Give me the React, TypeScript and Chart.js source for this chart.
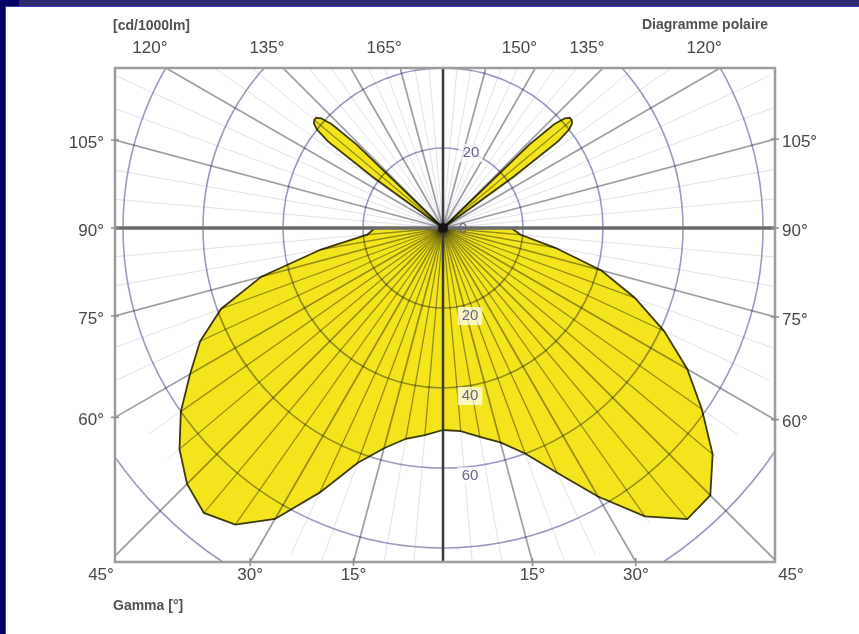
import { useEffect, useRef } from "react";
import { Chart, registerables } from "chart.js";

Chart.register(...registerables);

// Luminous intensity in cd/1000lm, gamma in degrees (0 = straight down)
const gammaLower = [0, 5, 10, 15, 20, 25, 30, 35, 40, 45, 50, 55, 60, 65, 70, 75, 80, 85, 90];
const lowerRight = [50.5, 51, 53, 55.5, 60, 67.5, 77.5, 88, 95, 94.5, 88, 79, 70.5, 61, 51, 41, 28.5, 19.5, 17];
const lowerLeft = [50.5, 52, 53.5, 57, 62.5, 73, 84, 90.5, 93, 90.5, 86, 80, 73, 67, 59, 47, 31, 19, 17];

// Narrow upward beam on each side
const gammaUpper = [92, 125, 126, 127, 128, 129, 130, 131, 132, 133, 134, 135, 180];
const upperRight = [0, 0, 22, 36, 40, 41.5, 42, 42, 41, 38, 30, 0, 0];
const upperLeft = [0, 0, 22, 36, 40, 41.5, 42, 42, 41, 38, 30, 0, 0];

// Grid
const ringValues = [20, 40, 60, 80, 100];
const ringLabelsBelow = [20, 40, 60];
const ringLabelsAbove = [20];
const mainSpokes = [0, 15, 30, 45, 60, 75, 90, 105, 120, 135, 150, 165, 180];
const fineSpokes = [5, 10, 20, 25, 35, 40, 50, 55, 65, 70, 80, 85, 95, 100, 110, 115, 125, 130, 140, 145, 155, 160, 170, 175];

// Angle labels around the frame
const sideLabels = [105, 90, 75, 60];
const bottomLabels = [45, 30, 15];
const topLeftLabels = [120, 135, 165];
const topRightLabels = [150, 135, 120];

// Axis ranges in cd/1000lm
const xRange = [-82, 83];
const yRange = [-83.5, 40];

const rad = (d: number) => (d * Math.PI) / 180;

function polarPoints(gammas: number[], values: number[], side: number) {
  return gammas.map((g, i) => ({
    x: side * values[i] * Math.sin(rad(g)),
    y: -values[i] * Math.cos(rad(g)),
  }));
}

function buildOutline() {
  const right = [
    ...polarPoints(gammaLower, lowerRight, 1),
    ...polarPoints(gammaUpper, upperRight, 1),
  ];
  const left = [
    ...polarPoints(gammaLower, lowerLeft, -1),
    ...polarPoints(gammaUpper, upperLeft, -1),
  ].reverse();
  return [...right, ...left];
}

function rayHit(g: number, side: number) {
  const dx = side * Math.sin(rad(g));
  const dy = -Math.cos(rad(g));
  let t = Infinity;
  if (dx > 1e-9) t = Math.min(t, xRange[1] / dx);
  if (dx < -1e-9) t = Math.min(t, xRange[0] / dx);
  if (dy > 1e-9) t = Math.min(t, yRange[1] / dy);
  if (dy < -1e-9) t = Math.min(t, yRange[0] / dy);
  return { x: dx * t, y: dy * t };
}

const frameAndGrid = {
  id: "frameAndGrid",
  beforeDraw(chart: any) {
    const { ctx, width, height } = chart;
    ctx.save();
    ctx.fillStyle = "#ffffff";
    ctx.fillRect(0, 0, width, height);
    // slide frame
    ctx.fillStyle = "#2b2b6e";
    ctx.fillRect(0, 0, width, 6);
    ctx.fillStyle = "#3a3ab4";
    ctx.fillRect(0, 6, width, 1);
    ctx.fillStyle = "#000066";
    ctx.fillRect(0, 0, 19, 6);
    ctx.fillRect(0, 0, 5, height);
    ctx.fillStyle = "#4444b0";
    ctx.fillRect(5, 6, 1, height - 6);
    ctx.restore();
  },
  afterDatasetsDraw(chart: any) {
    const { ctx, chartArea: a } = chart;
    const xs = chart.scales.x;
    const ys = chart.scales.y;
    const px = (v: number) => xs.getPixelForValue(v);
    const py = (v: number) => ys.getPixelForValue(v);
    const cx = px(0);
    const cy = py(0);
    const unit = px(1) - px(0);
    const pts = chart.getDatasetMeta(0).data as any[];

    const spoke = (g: number, side: number, len: number) => {
      ctx.beginPath();
      ctx.moveTo(cx, cy);
      ctx.lineTo(px(side * len * Math.sin(rad(g))), py(-len * Math.cos(rad(g))));
      ctx.stroke();
    };

    ctx.save();
    ctx.beginPath();
    ctx.rect(a.left, a.top, a.right - a.left, a.bottom - a.top);
    ctx.clip();
    ctx.globalCompositeOperation = "multiply";

    // faint intermediate spokes over the whole field
    ctx.strokeStyle = "#e2e2e8";
    ctx.lineWidth = 1;
    fineSpokes.forEach((g) => {
      spoke(g, 1, 90);
      spoke(g, -1, 90);
    });

    // stronger intermediate spokes inside the distribution
    ctx.save();
    ctx.beginPath();
    pts.forEach((p, i) => (i === 0 ? ctx.moveTo(p.x, p.y) : ctx.lineTo(p.x, p.y)));
    ctx.closePath();
    ctx.clip();
    ctx.strokeStyle = "#acacac";
    ctx.lineWidth = 1.3;
    fineSpokes.forEach((g) => {
      spoke(g, 1, 120);
      spoke(g, -1, 120);
    });
    ctx.restore();

    ctx.strokeStyle = "#9c9ca4";
    ctx.lineWidth = 1.7;
    mainSpokes.forEach((g) => {
      spoke(g, 1, 200);
      spoke(g, -1, 200);
    });

    ctx.strokeStyle = "#9a9ac0";
    ctx.lineWidth = 1.6;
    ringValues.forEach((r) => {
      ctx.beginPath();
      ctx.arc(cx, cy, r * unit, 0, Math.PI * 2);
      ctx.stroke();
    });
    ctx.globalCompositeOperation = "source-over";

    // main axes
    ctx.strokeStyle = "#6a6a6a";
    ctx.lineWidth = 3.5;
    ctx.beginPath();
    ctx.moveTo(a.left, cy);
    ctx.lineTo(a.right, cy);
    ctx.stroke();
    ctx.strokeStyle = "#3a3a3a";
    ctx.lineWidth = 2.5;
    ctx.beginPath();
    ctx.moveTo(cx, a.top);
    ctx.lineTo(cx, a.bottom);
    ctx.stroke();
    ctx.restore();

    ctx.save();
    // centre mark
    ctx.fillStyle = "#151515";
    ctx.beginPath();
    ctx.arc(cx, cy, 5, 0, Math.PI * 2);
    ctx.fill();

    // ring labels
    ctx.font = '15px "Liberation Sans", Arial, sans-serif';
    ctx.textAlign = "center";
    ctx.textBaseline = "middle";
    const ringLabel = (txt: string, x: number, y: number) => {
      const w = ctx.measureText(txt).width + 8;
      ctx.fillStyle = "rgba(255,255,255,0.7)";
      ctx.fillRect(x - w / 2, y - 9, w, 18);
      ctx.fillStyle = "#66668e";
      ctx.fillText(txt, x, y);
    };
    ringLabelsBelow.forEach((r) => ringLabel(String(r), cx + 27, cy + r * unit + 8));
    ringLabelsAbove.forEach((r) => ringLabel(String(r), cx + 28, cy - r * unit + 5));
    ctx.fillStyle = "#66668e";
    ctx.fillText("0", cx + 20, cy + 1);

    // frame
    ctx.strokeStyle = "#9c9c9c";
    ctx.lineWidth = 2.5;
    ctx.strokeRect(a.left, a.top, a.right - a.left, a.bottom - a.top);

    // angle labels
    ctx.fillStyle = "#474747";
    ctx.font = '17px "Liberation Sans", Arial, sans-serif';
    ctx.strokeStyle = "#8c8c8c";
    ctx.lineWidth = 1.5;
    const tick = (x: number, y: number, horiz: boolean) => {
      ctx.beginPath();
      if (horiz) {
        ctx.moveTo(x - 4, y);
        ctx.lineTo(x + 4, y);
      } else {
        ctx.moveTo(x, y - 4);
        ctx.lineTo(x, y + 4);
      }
      ctx.stroke();
    };

    sideLabels.forEach((g) => {
      const hl = rayHit(g, -1);
      const hr = rayHit(g, 1);
      tick(a.left, py(hl.y), true);
      tick(a.right, py(hr.y), true);
      ctx.textAlign = "right";
      ctx.fillText(`${g}°`, a.left - 11, py(hl.y) + 3);
      ctx.textAlign = "left";
      ctx.fillText(`${g}°`, a.right + 7, py(hr.y) + 3);
    });

    ctx.textAlign = "center";
    bottomLabels.forEach((g) => {
      const hl = rayHit(g, -1);
      const hr = rayHit(g, 1);
      const corner = g === 45;
      const xl = corner ? a.left - 14 : px(hl.x);
      const xr = corner ? a.right + 16 : px(hr.x);
      if (!corner) {
        tick(px(hl.x), a.bottom, false);
        tick(px(hr.x), a.bottom, false);
      }
      ctx.fillText(`${g}°`, xl, a.bottom + 13);
      ctx.fillText(`${g}°`, xr, a.bottom + 13);
    });

    topLeftLabels.forEach((g) => {
      const h = rayHit(g, -1);
      ctx.fillText(`${g}°`, px(h.x) - 16, a.top - 20);
    });
    topRightLabels.forEach((g) => {
      const h = rayHit(g, 1);
      ctx.fillText(`${g}°`, px(h.x) - 16, a.top - 20);
    });

    // captions
    ctx.fillStyle = "#505050";
    ctx.font = 'bold 14px "Liberation Sans", Arial, sans-serif';
    ctx.textAlign = "left";
    ctx.fillText("[cd/1000lm]", 113, 26);
    ctx.fillText("Gamma [°]", 113, 606);
    ctx.textAlign = "right";
    ctx.fillText("Diagramme polaire", 768, 25);
    ctx.restore();
  },
};

export default function App() {
  const canvasRef = useRef<HTMLCanvasElement | null>(null);

  useEffect(() => {
    const canvas = canvasRef.current;
    if (!canvas) return;
    const chart = new Chart(canvas, {
      type: "scatter",
      data: {
        datasets: [
          {
            label: "Intensity",
            data: buildOutline(),
            showLine: true,
            fill: "shape",
            backgroundColor: "#f3e41c",
            borderColor: "#3d3a08",
            borderWidth: 1.8,
            pointRadius: 0,
            tension: 0,
          } as any,
        ],
      },
      options: {
        responsive: false,
        animation: false,
        devicePixelRatio: 1,
        layout: { padding: { left: 115, right: 84, top: 68, bottom: 72 } },
        plugins: { legend: { display: false }, tooltip: { enabled: false } },
        scales: {
          x: { type: "linear", min: xRange[0], max: xRange[1], display: false },
          y: { type: "linear", min: yRange[0], max: yRange[1], display: false },
        },
      },
      plugins: [frameAndGrid],
    });
    return () => chart.destroy();
  }, []);

  return (
    <div style={{ position: "fixed", left: 0, top: 0, width: 859, height: 634 }}>
      <canvas ref={canvasRef} width={859} height={634} style={{ display: "block" }} />
    </div>
  );
}
